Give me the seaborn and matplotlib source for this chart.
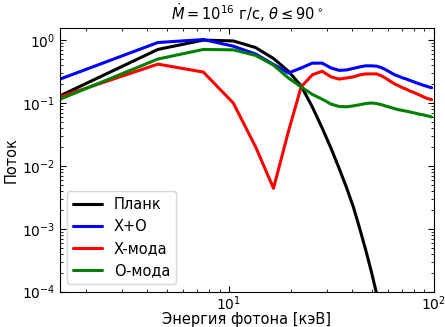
import numpy as np
import pandas as pd
import matplotlib
matplotlib.use("Agg")
import matplotlib.pyplot as plt
import seaborn as sns

# Photon energy grid, keV
energy = [1.5, 4.5, 7.5, 10.5, 13.5, 16.5, 19.5, 22.5, 25.5, 28.5, 31.5, 34.5,
          37.5, 40.5, 43.5, 46.5, 49.5, 52.5, 55.5, 58.5, 61.5, 64.5, 67.5,
          70.5, 73.5, 76.5, 79.5, 82.5, 85.5, 88.5, 91.5, 94.5, 97.5]

# Blackbody spectrum (drops off the plot after ~55 keV)
planck = [0.13, 0.71, 1.0, 0.97, 0.76, 0.51, 0.32, 0.187, 0.087, 0.040, 0.019,
          0.0091, 0.0045, 0.0022, 0.00100, 0.00046, 0.00021, 0.000094, 0.000042]

# Total flux and the two polarisation modes
x_plus_o = [0.24, 0.915, 1.02, 0.80, 0.60, 0.41, 0.30, 0.36, 0.43, 0.43, 0.36,
            0.33, 0.335, 0.355, 0.375, 0.39, 0.39, 0.385, 0.365, 0.335, 0.305,
            0.28, 0.265, 0.25, 0.24, 0.228, 0.218, 0.208, 0.2, 0.192, 0.186,
            0.18, 0.175]
x_mode = [0.125, 0.415, 0.31, 0.10, 0.020, 0.0044, 0.035, 0.18, 0.28, 0.32, 0.26,
          0.24, 0.25, 0.26, 0.28, 0.29, 0.29, 0.29, 0.27, 0.245, 0.22, 0.20,
          0.187, 0.174, 0.165, 0.155, 0.148, 0.14, 0.133, 0.126, 0.12, 0.116,
          0.113]
o_mode = [0.115, 0.50, 0.71, 0.70, 0.57, 0.40, 0.25, 0.18, 0.137, 0.115, 0.096,
          0.088, 0.087, 0.09, 0.094, 0.098, 0.10, 0.098, 0.094, 0.089, 0.085,
          0.081, 0.078, 0.076, 0.074, 0.072, 0.07, 0.068, 0.066, 0.065, 0.063,
          0.062, 0.06]

labels = ["Планк", "X+O", "X-мода", "O-мода"]
colors = ["black", "blue", "red", "green"]

frames = []
for name, vals in zip(labels, [planck, x_plus_o, x_mode, o_mode]):
    frames.append(pd.DataFrame({"E": energy[:len(vals)], "F": vals, "series": name}))
df = pd.concat(frames, ignore_index=True)

sns.set_style("ticks", {"axes.edgecolor": "black", "text.color": "black",
                        "axes.labelcolor": "black", "xtick.color": "black",
                        "ytick.color": "black"})
plt.rcParams["font.family"] = ["DejaVu Sans"]

fig = plt.figure(figsize=(4.45, 3.27), dpi=100)
ax = fig.add_axes([0.135, 0.108, 0.840, 0.806])

sns.lineplot(data=df, x="E", y="F", hue="series", hue_order=labels,
             palette=dict(zip(labels, colors)), linewidth=2.2, sort=False,
             estimator=None, ax=ax)

ax.set_xscale("log")
ax.set_yscale("log")
ax.set_xlim(1.5, 100)
ax.set_ylim(1e-4, 1.55)

ax.tick_params(which="both", direction="in", top=True, right=True, labelsize=10)
ax.tick_params(which="major", length=4)
ax.tick_params(which="minor", length=2)
ax.tick_params(axis="x", which="both", pad=2)

ax.set_xlabel("Энергия фотона [кэВ]", fontsize=10.5, labelpad=-1)
ax.set_ylabel("Поток", fontsize=10.5, labelpad=2)
ax.set_title(r"$\dot{M} = 10^{16}$ г/с, $\theta \leq 90^\circ$", fontsize=10.5)

ax.legend(loc="lower left", fontsize=10.5, frameon=True)

fig.savefig("out.png", dpi=100)
